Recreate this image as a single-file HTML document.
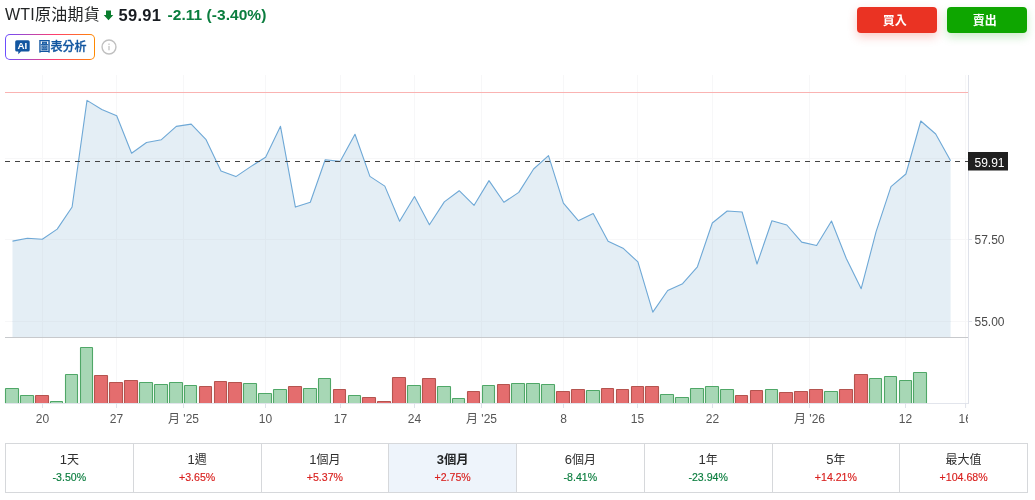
<!DOCTYPE html>
<html lang="zh-Hant">
<head>
<meta charset="utf-8">
<title>WTI原油期貨</title>
<style>
*{box-sizing:border-box;margin:0;padding:0}
html,body{width:1035px;height:500px;background:#fff;overflow:hidden}
body{position:relative;font-family:"Liberation Sans","Noto Sans CJK TC",sans-serif;color:#232526}
.chart{position:absolute;left:0;top:0}
.ax{font-family:"Liberation Sans","Noto Sans CJK TC",sans-serif;font-size:12px}
.title{position:absolute;left:5px;top:3px;height:24px;line-height:24px;font-size:16px;letter-spacing:0.22px;white-space:nowrap;color:#232526}
.arrow{position:absolute;left:103px;top:10.1px}
.last{position:absolute;left:118.6px;top:3px;height:24px;line-height:24px;font-size:16.5px;letter-spacing:0.25px;font-weight:bold;color:#181c21;white-space:nowrap}
.chg{position:absolute;left:167.5px;top:3px;height:24px;line-height:24px;font-size:15.5px;letter-spacing:0.05px;color:#0a7d3e;white-space:nowrap;font-weight:bold}
.btn{position:absolute;top:7px;width:80px;height:26px;border-radius:4px;color:#fff;font-weight:bold;font-size:12px;line-height:28px;text-align:center;padding-right:4.4px}
.buy{left:857px;background:#ea3323;box-shadow:0 4px 10px rgba(234,51,35,.25)}
.sell{left:947px;background:#0ea600;box-shadow:0 4px 10px rgba(14,166,0,.22)}
.ai{position:absolute;left:5px;top:34px;width:90px;height:26px;border-radius:5px;background:linear-gradient(90deg,#6a4dff 0%,#ff3d6e 55%,#ff8a00 100%);}
.ai .in{position:absolute;left:1.2px;top:1.2px;right:1.2px;bottom:1.2px;border-radius:4px;background:#fff}
.ai svg{position:absolute;left:9.6px;top:5.5px}
.ai .t{position:absolute;left:33.5px;top:0;height:26px;line-height:27.4px;font-size:12px;font-weight:500;color:#1256a0;white-space:nowrap;-webkit-text-stroke:0.3px #1256a0}
.info{position:absolute;left:100.9px;top:38.5px}
.tbl{position:absolute;left:5px;top:443px;width:1023px;height:50px;border:1px solid #d6d8db;display:flex;background:#fff}
.cell{flex:1 1 0;border-left:1px solid #d6d8db;text-align:center;height:48px}
.cell:first-child{border-left:none}
.cell.act{background:#eef4fb}
.cell .p{font-size:12px;line-height:16px;margin-top:7.5px;color:#2e2e2e}
.cell .p b{font-weight:inherit;font-size:13px;line-height:1px}
.cell.act .p{font-weight:bold;color:#232526;font-size:12.3px}
.cell .v{font-size:10.6px;line-height:14px;margin-top:2.5px;-webkit-text-stroke:0.15px currentColor}
.g{color:#0a7d3e} .r{color:#d9211f}
</style>
</head>
<body>
<svg class="chart" width="1035" height="500" viewBox="0 0 1035 500">
<line x1="42.5" y1="75" x2="42.5" y2="403" stroke="#f7f7f8" stroke-width="1"/>
<line x1="116.5" y1="75" x2="116.5" y2="403" stroke="#f7f7f8" stroke-width="1"/>
<line x1="183.5" y1="75" x2="183.5" y2="403" stroke="#f7f7f8" stroke-width="1"/>
<line x1="265.5" y1="75" x2="265.5" y2="403" stroke="#f7f7f8" stroke-width="1"/>
<line x1="340.5" y1="75" x2="340.5" y2="403" stroke="#f7f7f8" stroke-width="1"/>
<line x1="414.5" y1="75" x2="414.5" y2="403" stroke="#f7f7f8" stroke-width="1"/>
<line x1="481.5" y1="75" x2="481.5" y2="403" stroke="#f7f7f8" stroke-width="1"/>
<line x1="563.5" y1="75" x2="563.5" y2="403" stroke="#f7f7f8" stroke-width="1"/>
<line x1="637.5" y1="75" x2="637.5" y2="403" stroke="#f7f7f8" stroke-width="1"/>
<line x1="712.5" y1="75" x2="712.5" y2="403" stroke="#f7f7f8" stroke-width="1"/>
<line x1="809.5" y1="75" x2="809.5" y2="403" stroke="#f7f7f8" stroke-width="1"/>
<line x1="905.5" y1="75" x2="905.5" y2="403" stroke="#f7f7f8" stroke-width="1"/>
<line x1="965.5" y1="75" x2="965.5" y2="403" stroke="#f7f7f8" stroke-width="1"/>
<line x1="5" y1="158.5" x2="968" y2="158.5" stroke="#f7f7f8" stroke-width="1"/>
<line x1="5" y1="239.5" x2="968" y2="239.5" stroke="#f7f7f8" stroke-width="1"/>
<line x1="5" y1="321.5" x2="968" y2="321.5" stroke="#f7f7f8" stroke-width="1"/>
<clipPath id="ac"><path d="M12.5,241.1 L27.4,238.2 L42.3,239.3 L57.2,229.1 L72.1,207.0 L87.0,100.4 L101.8,109.5 L116.7,115.8 L131.6,153.2 L146.5,142.5 L161.4,139.7 L176.3,126.4 L191.2,124.1 L206.1,139.7 L221.0,171.1 L235.9,176.6 L250.7,166.6 L265.6,157.2 L280.5,126.3 L295.4,207.1 L310.3,202.2 L325.2,159.8 L340.1,161.4 L355.0,134.3 L369.9,176.4 L384.8,186.1 L399.6,221.2 L414.5,196.5 L429.4,224.8 L444.3,201.9 L459.2,190.7 L474.1,205.3 L489.0,180.6 L503.9,202.3 L518.8,192.4 L533.6,169.0 L548.5,155.7 L563.4,203.1 L578.3,220.7 L593.2,213.5 L608.1,241.2 L623.0,248.2 L637.9,261.9 L652.8,312.1 L667.7,290.5 L682.6,283.7 L697.4,266.8 L712.3,223.0 L727.2,211.0 L742.1,212.0 L757.0,264.0 L771.9,220.8 L786.8,225.0 L801.7,242.1 L816.6,245.5 L831.5,221.0 L846.3,258.5 L861.2,288.7 L876.1,231.7 L891.0,186.7 L905.9,174.0 L920.8,121.0 L935.7,134.0 L950.6,160.7 L950.6,337 L12.5,337 Z"/></clipPath>
<path d="M12.5,241.1 L27.4,238.2 L42.3,239.3 L57.2,229.1 L72.1,207.0 L87.0,100.4 L101.8,109.5 L116.7,115.8 L131.6,153.2 L146.5,142.5 L161.4,139.7 L176.3,126.4 L191.2,124.1 L206.1,139.7 L221.0,171.1 L235.9,176.6 L250.7,166.6 L265.6,157.2 L280.5,126.3 L295.4,207.1 L310.3,202.2 L325.2,159.8 L340.1,161.4 L355.0,134.3 L369.9,176.4 L384.8,186.1 L399.6,221.2 L414.5,196.5 L429.4,224.8 L444.3,201.9 L459.2,190.7 L474.1,205.3 L489.0,180.6 L503.9,202.3 L518.8,192.4 L533.6,169.0 L548.5,155.7 L563.4,203.1 L578.3,220.7 L593.2,213.5 L608.1,241.2 L623.0,248.2 L637.9,261.9 L652.8,312.1 L667.7,290.5 L682.6,283.7 L697.4,266.8 L712.3,223.0 L727.2,211.0 L742.1,212.0 L757.0,264.0 L771.9,220.8 L786.8,225.0 L801.7,242.1 L816.6,245.5 L831.5,221.0 L846.3,258.5 L861.2,288.7 L876.1,231.7 L891.0,186.7 L905.9,174.0 L920.8,121.0 L935.7,134.0 L950.6,160.7 L950.6,337 L12.5,337 Z" fill="#e4eef5"/>
<g clip-path="url(#ac)">
<line x1="42.5" y1="75" x2="42.5" y2="337" stroke="#dfe8ef" stroke-width="1"/>
<line x1="116.5" y1="75" x2="116.5" y2="337" stroke="#dfe8ef" stroke-width="1"/>
<line x1="183.5" y1="75" x2="183.5" y2="337" stroke="#dfe8ef" stroke-width="1"/>
<line x1="265.5" y1="75" x2="265.5" y2="337" stroke="#dfe8ef" stroke-width="1"/>
<line x1="340.5" y1="75" x2="340.5" y2="337" stroke="#dfe8ef" stroke-width="1"/>
<line x1="414.5" y1="75" x2="414.5" y2="337" stroke="#dfe8ef" stroke-width="1"/>
<line x1="481.5" y1="75" x2="481.5" y2="337" stroke="#dfe8ef" stroke-width="1"/>
<line x1="563.5" y1="75" x2="563.5" y2="337" stroke="#dfe8ef" stroke-width="1"/>
<line x1="637.5" y1="75" x2="637.5" y2="337" stroke="#dfe8ef" stroke-width="1"/>
<line x1="712.5" y1="75" x2="712.5" y2="337" stroke="#dfe8ef" stroke-width="1"/>
<line x1="809.5" y1="75" x2="809.5" y2="337" stroke="#dfe8ef" stroke-width="1"/>
<line x1="905.5" y1="75" x2="905.5" y2="337" stroke="#dfe8ef" stroke-width="1"/>
<line x1="5" y1="158.5" x2="968" y2="158.5" stroke="#dfe8ef" stroke-width="1"/>
<line x1="5" y1="239.5" x2="968" y2="239.5" stroke="#dfe8ef" stroke-width="1"/>
<line x1="5" y1="321.5" x2="968" y2="321.5" stroke="#dfe8ef" stroke-width="1"/>
</g>
<path d="M12.5,241.1 L27.4,238.2 L42.3,239.3 L57.2,229.1 L72.1,207.0 L87.0,100.4 L101.8,109.5 L116.7,115.8 L131.6,153.2 L146.5,142.5 L161.4,139.7 L176.3,126.4 L191.2,124.1 L206.1,139.7 L221.0,171.1 L235.9,176.6 L250.7,166.6 L265.6,157.2 L280.5,126.3 L295.4,207.1 L310.3,202.2 L325.2,159.8 L340.1,161.4 L355.0,134.3 L369.9,176.4 L384.8,186.1 L399.6,221.2 L414.5,196.5 L429.4,224.8 L444.3,201.9 L459.2,190.7 L474.1,205.3 L489.0,180.6 L503.9,202.3 L518.8,192.4 L533.6,169.0 L548.5,155.7 L563.4,203.1 L578.3,220.7 L593.2,213.5 L608.1,241.2 L623.0,248.2 L637.9,261.9 L652.8,312.1 L667.7,290.5 L682.6,283.7 L697.4,266.8 L712.3,223.0 L727.2,211.0 L742.1,212.0 L757.0,264.0 L771.9,220.8 L786.8,225.0 L801.7,242.1 L816.6,245.5 L831.5,221.0 L846.3,258.5 L861.2,288.7 L876.1,231.7 L891.0,186.7 L905.9,174.0 L920.8,121.0 L935.7,134.0 L950.6,160.7" fill="none" stroke="#6ea8d6" stroke-width="1.1" stroke-linejoin="round"/>
<line x1="5" y1="92.5" x2="968" y2="92.5" stroke="#fab3b2" stroke-width="1"/>
<line x1="5" y1="161.5" x2="968" y2="161.5" stroke="#444" stroke-width="1" stroke-dasharray="5 5"/>
<line x1="5" y1="337.5" x2="968" y2="337.5" stroke="#c7c9cc" stroke-width="1"/>
<rect x="5.5" y="388.5" width="13" height="15" rx="0.5" fill="#a7d7b5" stroke="#4fa767" stroke-width="1.1"/>
<rect x="20.5" y="395.5" width="13" height="8" rx="0.5" fill="#a7d7b5" stroke="#4fa767" stroke-width="1.1"/>
<rect x="35.5" y="395.5" width="13" height="8" rx="0.5" fill="#e46d6e" stroke="#b5544f" stroke-width="1.1"/>
<rect x="50.5" y="401.5" width="12" height="2" rx="0.5" fill="#a7d7b5" stroke="#4fa767" stroke-width="1.1"/>
<rect x="65.5" y="374.5" width="12" height="29" rx="0.5" fill="#a7d7b5" stroke="#4fa767" stroke-width="1.1"/>
<rect x="80.5" y="347.5" width="12" height="56" rx="0.5" fill="#a7d7b5" stroke="#4fa767" stroke-width="1.1"/>
<rect x="94.5" y="375.5" width="13" height="28" rx="0.5" fill="#e46d6e" stroke="#b5544f" stroke-width="1.1"/>
<rect x="109.5" y="382.5" width="13" height="21" rx="0.5" fill="#e46d6e" stroke="#b5544f" stroke-width="1.1"/>
<rect x="124.5" y="380.5" width="13" height="23" rx="0.5" fill="#e46d6e" stroke="#b5544f" stroke-width="1.1"/>
<rect x="139.5" y="382.5" width="13" height="21" rx="0.5" fill="#a7d7b5" stroke="#4fa767" stroke-width="1.1"/>
<rect x="154.5" y="384.5" width="13" height="19" rx="0.5" fill="#a7d7b5" stroke="#4fa767" stroke-width="1.1"/>
<rect x="169.5" y="382.5" width="13" height="21" rx="0.5" fill="#a7d7b5" stroke="#4fa767" stroke-width="1.1"/>
<rect x="184.5" y="385.5" width="12" height="18" rx="0.5" fill="#a7d7b5" stroke="#4fa767" stroke-width="1.1"/>
<rect x="199.5" y="386.5" width="12" height="17" rx="0.5" fill="#e46d6e" stroke="#b5544f" stroke-width="1.1"/>
<rect x="214.5" y="381.5" width="12" height="22" rx="0.5" fill="#e46d6e" stroke="#b5544f" stroke-width="1.1"/>
<rect x="228.5" y="382.5" width="13" height="21" rx="0.5" fill="#e46d6e" stroke="#b5544f" stroke-width="1.1"/>
<rect x="243.5" y="383.5" width="13" height="20" rx="0.5" fill="#a7d7b5" stroke="#4fa767" stroke-width="1.1"/>
<rect x="258.5" y="393.5" width="13" height="10" rx="0.5" fill="#a7d7b5" stroke="#4fa767" stroke-width="1.1"/>
<rect x="273.5" y="389.5" width="13" height="14" rx="0.5" fill="#a7d7b5" stroke="#4fa767" stroke-width="1.1"/>
<rect x="288.5" y="386.5" width="13" height="17" rx="0.5" fill="#e46d6e" stroke="#b5544f" stroke-width="1.1"/>
<rect x="303.5" y="388.5" width="13" height="15" rx="0.5" fill="#a7d7b5" stroke="#4fa767" stroke-width="1.1"/>
<rect x="318.5" y="378.5" width="12" height="25" rx="0.5" fill="#a7d7b5" stroke="#4fa767" stroke-width="1.1"/>
<rect x="333.5" y="389.5" width="12" height="14" rx="0.5" fill="#e46d6e" stroke="#b5544f" stroke-width="1.1"/>
<rect x="348.5" y="395.5" width="12" height="8" rx="0.5" fill="#a7d7b5" stroke="#4fa767" stroke-width="1.1"/>
<rect x="362.5" y="397.5" width="13" height="6" rx="0.5" fill="#e46d6e" stroke="#b5544f" stroke-width="1.1"/>
<rect x="377.5" y="401.5" width="13" height="2" rx="0.5" fill="#e46d6e" stroke="#b5544f" stroke-width="1.1"/>
<rect x="392.5" y="377.5" width="13" height="26" rx="0.5" fill="#e46d6e" stroke="#b5544f" stroke-width="1.1"/>
<rect x="407.5" y="385.5" width="13" height="18" rx="0.5" fill="#a7d7b5" stroke="#4fa767" stroke-width="1.1"/>
<rect x="422.5" y="378.5" width="13" height="25" rx="0.5" fill="#e46d6e" stroke="#b5544f" stroke-width="1.1"/>
<rect x="437.5" y="386.5" width="13" height="17" rx="0.5" fill="#a7d7b5" stroke="#4fa767" stroke-width="1.1"/>
<rect x="452.5" y="398.5" width="12" height="5" rx="0.5" fill="#a7d7b5" stroke="#4fa767" stroke-width="1.1"/>
<rect x="467.5" y="391.5" width="12" height="12" rx="0.5" fill="#e46d6e" stroke="#b5544f" stroke-width="1.1"/>
<rect x="482.5" y="385.5" width="12" height="18" rx="0.5" fill="#a7d7b5" stroke="#4fa767" stroke-width="1.1"/>
<rect x="497.5" y="384.5" width="12" height="19" rx="0.5" fill="#e46d6e" stroke="#b5544f" stroke-width="1.1"/>
<rect x="511.5" y="383.5" width="13" height="20" rx="0.5" fill="#a7d7b5" stroke="#4fa767" stroke-width="1.1"/>
<rect x="526.5" y="383.5" width="13" height="20" rx="0.5" fill="#a7d7b5" stroke="#4fa767" stroke-width="1.1"/>
<rect x="541.5" y="384.5" width="13" height="19" rx="0.5" fill="#a7d7b5" stroke="#4fa767" stroke-width="1.1"/>
<rect x="556.5" y="391.5" width="13" height="12" rx="0.5" fill="#e46d6e" stroke="#b5544f" stroke-width="1.1"/>
<rect x="571.5" y="389.5" width="13" height="14" rx="0.5" fill="#e46d6e" stroke="#b5544f" stroke-width="1.1"/>
<rect x="586.5" y="390.5" width="13" height="13" rx="0.5" fill="#a7d7b5" stroke="#4fa767" stroke-width="1.1"/>
<rect x="601.5" y="388.5" width="12" height="15" rx="0.5" fill="#e46d6e" stroke="#b5544f" stroke-width="1.1"/>
<rect x="616.5" y="389.5" width="12" height="14" rx="0.5" fill="#e46d6e" stroke="#b5544f" stroke-width="1.1"/>
<rect x="631.5" y="386.5" width="12" height="17" rx="0.5" fill="#e46d6e" stroke="#b5544f" stroke-width="1.1"/>
<rect x="645.5" y="386.5" width="13" height="17" rx="0.5" fill="#e46d6e" stroke="#b5544f" stroke-width="1.1"/>
<rect x="660.5" y="394.5" width="13" height="9" rx="0.5" fill="#a7d7b5" stroke="#4fa767" stroke-width="1.1"/>
<rect x="675.5" y="397.5" width="13" height="6" rx="0.5" fill="#a7d7b5" stroke="#4fa767" stroke-width="1.1"/>
<rect x="690.5" y="388.5" width="13" height="15" rx="0.5" fill="#a7d7b5" stroke="#4fa767" stroke-width="1.1"/>
<rect x="705.5" y="386.5" width="13" height="17" rx="0.5" fill="#a7d7b5" stroke="#4fa767" stroke-width="1.1"/>
<rect x="720.5" y="389.5" width="13" height="14" rx="0.5" fill="#a7d7b5" stroke="#4fa767" stroke-width="1.1"/>
<rect x="735.5" y="395.5" width="12" height="8" rx="0.5" fill="#e46d6e" stroke="#b5544f" stroke-width="1.1"/>
<rect x="750.5" y="390.5" width="12" height="13" rx="0.5" fill="#e46d6e" stroke="#b5544f" stroke-width="1.1"/>
<rect x="765.5" y="389.5" width="12" height="14" rx="0.5" fill="#a7d7b5" stroke="#4fa767" stroke-width="1.1"/>
<rect x="779.5" y="392.5" width="13" height="11" rx="0.5" fill="#e46d6e" stroke="#b5544f" stroke-width="1.1"/>
<rect x="794.5" y="391.5" width="13" height="12" rx="0.5" fill="#e46d6e" stroke="#b5544f" stroke-width="1.1"/>
<rect x="809.5" y="389.5" width="13" height="14" rx="0.5" fill="#e46d6e" stroke="#b5544f" stroke-width="1.1"/>
<rect x="824.5" y="391.5" width="13" height="12" rx="0.5" fill="#a7d7b5" stroke="#4fa767" stroke-width="1.1"/>
<rect x="839.5" y="389.5" width="13" height="14" rx="0.5" fill="#e46d6e" stroke="#b5544f" stroke-width="1.1"/>
<rect x="854.5" y="374.5" width="13" height="29" rx="0.5" fill="#e46d6e" stroke="#b5544f" stroke-width="1.1"/>
<rect x="869.5" y="378.5" width="12" height="25" rx="0.5" fill="#a7d7b5" stroke="#4fa767" stroke-width="1.1"/>
<rect x="884.5" y="376.5" width="12" height="27" rx="0.5" fill="#a7d7b5" stroke="#4fa767" stroke-width="1.1"/>
<rect x="899.5" y="380.5" width="12" height="23" rx="0.5" fill="#a7d7b5" stroke="#4fa767" stroke-width="1.1"/>
<rect x="913.5" y="372.5" width="13" height="31" rx="0.5" fill="#a7d7b5" stroke="#4fa767" stroke-width="1.1"/>
<line x1="5" y1="403.5" x2="968" y2="403.5" stroke="#e2e5ec" stroke-width="1"/>
<line x1="968.5" y1="75" x2="968.5" y2="404" stroke="#dfe2ea" stroke-width="1"/>
<line x1="969" y1="158.5" x2="972" y2="158.5" stroke="#dfe2ea" stroke-width="1"/>
<line x1="969" y1="239.5" x2="972" y2="239.5" stroke="#dfe2ea" stroke-width="1"/>
<line x1="969" y1="321.5" x2="972" y2="321.5" stroke="#dfe2ea" stroke-width="1"/>
<line x1="42.5" y1="403" x2="42.5" y2="408" stroke="#dfe2ea" stroke-width="1"/>
<line x1="116.5" y1="403" x2="116.5" y2="408" stroke="#dfe2ea" stroke-width="1"/>
<line x1="183.5" y1="403" x2="183.5" y2="408" stroke="#dfe2ea" stroke-width="1"/>
<line x1="265.5" y1="403" x2="265.5" y2="408" stroke="#dfe2ea" stroke-width="1"/>
<line x1="340.5" y1="403" x2="340.5" y2="408" stroke="#dfe2ea" stroke-width="1"/>
<line x1="414.5" y1="403" x2="414.5" y2="408" stroke="#dfe2ea" stroke-width="1"/>
<line x1="481.5" y1="403" x2="481.5" y2="408" stroke="#dfe2ea" stroke-width="1"/>
<line x1="563.5" y1="403" x2="563.5" y2="408" stroke="#dfe2ea" stroke-width="1"/>
<line x1="637.5" y1="403" x2="637.5" y2="408" stroke="#dfe2ea" stroke-width="1"/>
<line x1="712.5" y1="403" x2="712.5" y2="408" stroke="#dfe2ea" stroke-width="1"/>
<line x1="809.5" y1="403" x2="809.5" y2="408" stroke="#dfe2ea" stroke-width="1"/>
<line x1="905.5" y1="403" x2="905.5" y2="408" stroke="#dfe2ea" stroke-width="1"/>
<line x1="965.6" y1="403" x2="965.6" y2="408" stroke="#dfe2ea" stroke-width="1"/>
<rect x="968" y="152" width="40" height="18.5" fill="#1f1f1f"/>
<text x="974.5" y="167.2" fill="#fff" class="ax">59.91</text>
<text x="974.5" y="243.8" fill="#4a4a4a" class="ax">57.50</text>
<text x="974.5" y="325.6" fill="#4a4a4a" class="ax">55.00</text>
<text x="42.5" y="423" fill="#555" class="ax" text-anchor="middle">20</text>
<text x="116.5" y="423" fill="#555" class="ax" text-anchor="middle">27</text>
<text x="183.5" y="423" fill="#555" class="ax" text-anchor="middle">月 '25</text>
<text x="265.5" y="423" fill="#555" class="ax" text-anchor="middle">10</text>
<text x="340.5" y="423" fill="#555" class="ax" text-anchor="middle">17</text>
<text x="414.5" y="423" fill="#555" class="ax" text-anchor="middle">24</text>
<text x="481.5" y="423" fill="#555" class="ax" text-anchor="middle">月 '25</text>
<text x="563.5" y="423" fill="#555" class="ax" text-anchor="middle">8</text>
<text x="637.5" y="423" fill="#555" class="ax" text-anchor="middle">15</text>
<text x="712.5" y="423" fill="#555" class="ax" text-anchor="middle">22</text>
<text x="809.5" y="423" fill="#555" class="ax" text-anchor="middle">月 '26</text>
<text x="905.5" y="423" fill="#555" class="ax" text-anchor="middle">12</text>
<svg x="955" y="408" width="13" height="20" overflow="hidden"><text x="3.6" y="15" fill="#555" class="ax">16</text></svg>
</svg>
<div class="title">WTI原油期貨</div>
<svg class="arrow" width="11" height="11" viewBox="0 0 11 11"><path d="M3 0.5 H8 V5 H10.3 L5.5 10.3 L0.7 5 H3 Z" fill="#0a7d2e"/></svg>
<div class="last">59.91</div>
<div class="chg">-2.11 (-3.40%)</div>
<div class="btn buy">買入</div>
<div class="btn sell">賣出</div>
<div class="ai"><div class="in"></div>
<svg width="16" height="15" viewBox="0 0 16 15"><path d="M1.8 0.2 H13.1 Q14.7 0.2 14.7 1.8 V10 Q14.7 11.6 13.1 11.6 H6 L3.3 14.2 V11.6 H1.8 Q0.2 11.6 0.2 10 V1.8 Q0.2 0.2 1.8 0.2 Z" fill="#1256a0"/><text x="7.35" y="9.45" text-anchor="middle" font-family="Liberation Sans, sans-serif" font-weight="bold" font-size="9.8" fill="#fff">AI</text></svg>
<div class="t">圖表分析</div></div>
<svg class="info" width="16" height="16" viewBox="0 0 16 16"><circle cx="8" cy="8" r="6.95" fill="none" stroke="#c0c0c0" stroke-width="1.4"/><rect x="7.35" y="6.9" width="1.3" height="4.4" fill="#c4c4c4"/><rect x="7.35" y="4.5" width="1.3" height="1.4" fill="#c4c4c4"/></svg>
<div class="tbl"><div class="cell"><div class="p"><b>1</b>天</div><div class="v g">-3.50%</div></div><div class="cell"><div class="p"><b>1</b>週</div><div class="v r">+3.65%</div></div><div class="cell"><div class="p"><b>1</b>個月</div><div class="v r">+5.37%</div></div><div class="cell act"><div class="p"><b>3</b>個月</div><div class="v r">+2.75%</div></div><div class="cell"><div class="p"><b>6</b>個月</div><div class="v g">-8.41%</div></div><div class="cell"><div class="p"><b>1</b>年</div><div class="v g">-23.94%</div></div><div class="cell"><div class="p"><b>5</b>年</div><div class="v r">+14.21%</div></div><div class="cell"><div class="p">最大值</div><div class="v r">+104.68%</div></div></div>
</body>
</html>
